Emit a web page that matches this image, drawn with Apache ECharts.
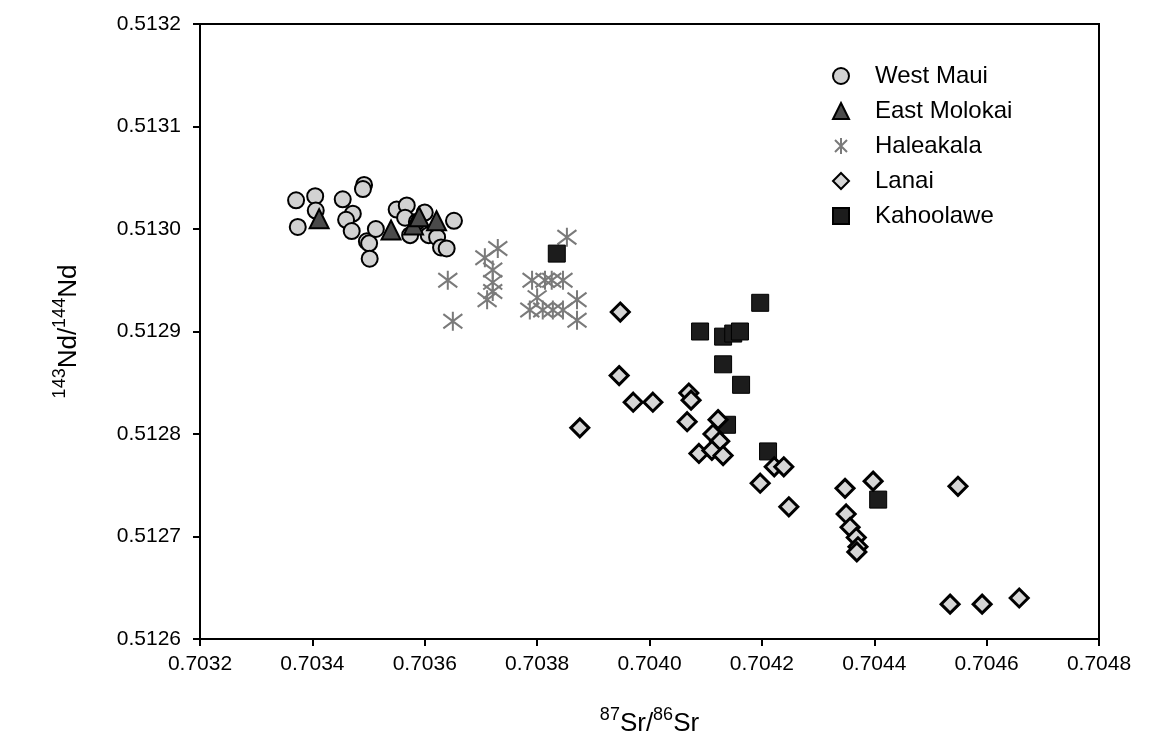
<!DOCTYPE html>
<html>
<head>
<meta charset="utf-8">
<title>Sr-Nd isotopes</title>
<script src="https://cdn.jsdelivr.net/npm/echarts@6/dist/echarts.min.js"></script>
<style>
  html, body { margin: 0; padding: 0; background: #fff; }
  #chart { width: 1170px; height: 755px; }
</style>
</head>
<body>
<div id="chart"></div>
<script>
// 87Sr/86Sr vs 143Nd/144Nd, volcanoes of the Maui Nui complex
const xTicks = [0.7032, 0.7034, 0.7036, 0.7038, 0.7040, 0.7042, 0.7044, 0.7046, 0.7048];
const yTicks = [0.5126, 0.5127, 0.5128, 0.5129, 0.5130, 0.5131, 0.5132];

const westMaui = [
  [0.703371, 0.513028], [0.703405, 0.513032], [0.703406, 0.513018], [0.703374, 0.513002],
  [0.703454, 0.513029], [0.703492, 0.513043], [0.703490, 0.513039], [0.703472, 0.513015],
  [0.703460, 0.513009], [0.703470, 0.512998], [0.703497, 0.512988], [0.703501, 0.512986],
  [0.703513, 0.513000], [0.703502, 0.512971], [0.703550, 0.513019], [0.703568, 0.513023],
  [0.703565, 0.513011], [0.703574, 0.512994], [0.703600, 0.513016], [0.703607, 0.512994],
  [0.703622, 0.512992], [0.703629, 0.512982], [0.703639, 0.512981], [0.703652, 0.513008],
  [0.703586, 0.513007]
];
const eastMolokai = [
  [0.703412, 0.513010], [0.703540, 0.512999], [0.703580, 0.513004],
  [0.703590, 0.513012], [0.703621, 0.513008]
];
const haleakala = [
  [0.703641, 0.512950], [0.703650, 0.512910], [0.703730, 0.512981], [0.703707, 0.512972],
  [0.703721, 0.512960], [0.703721, 0.512948], [0.703721, 0.512939], [0.703711, 0.512931],
  [0.703791, 0.512950], [0.703814, 0.512950], [0.703826, 0.512950], [0.703846, 0.512950],
  [0.703853, 0.512992], [0.703800, 0.512933], [0.703787, 0.512921], [0.703810, 0.512921],
  [0.703828, 0.512921], [0.703846, 0.512921], [0.703871, 0.512931], [0.703871, 0.512911]
];
const lanai = [
  [0.703948, 0.512919], [0.703946, 0.512857], [0.703971, 0.512831], [0.704006, 0.512831],
  [0.703876, 0.512806], [0.704070, 0.512840], [0.704074, 0.512833], [0.704067, 0.512812],
  [0.704122, 0.512814], [0.704113, 0.512800], [0.704125, 0.512793], [0.704088, 0.512781],
  [0.704111, 0.512784], [0.704131, 0.512779], [0.704222, 0.512768], [0.704239, 0.512768],
  [0.704197, 0.512752], [0.704248, 0.512729], [0.704348, 0.512747], [0.704398, 0.512754],
  [0.704350, 0.512722], [0.704357, 0.512709], [0.704368, 0.512699], [0.704371, 0.512690],
  [0.704369, 0.512685], [0.704549, 0.512749], [0.704535, 0.512634], [0.704592, 0.512634],
  [0.704658, 0.512640]
];
const kahoolawe = [
  [0.703835, 0.512976], [0.704197, 0.512928], [0.704090, 0.512900], [0.704131, 0.512895],
  [0.704149, 0.512898], [0.704161, 0.512900], [0.704131, 0.512868], [0.704163, 0.512848],
  [0.704138, 0.512809], [0.704211, 0.512783], [0.704407, 0.512736]
];

const FONT = '"Liberation Sans", Arial, Helvetica, sans-serif';
const STAR = 'path://M10,0 L10,20 M2.5,2.5 L17.5,17.5 M2.5,17.5 L17.5,2.5';

const chart = echarts.init(document.getElementById('chart'), null, { renderer: 'canvas' });

const fmt = v => v.toFixed(4);

const titleRich = {
  b: { fontFamily: FONT, fontSize: 26, color: '#000', verticalAlign: 'bottom', lineHeight: 32 },
  sup: { fontFamily: FONT, fontSize: 18, color: '#000', verticalAlign: 'bottom', lineHeight: 32, padding: [0, 0, 13, 0] }
};

chart.setOption({
  animation: false,
  backgroundColor: '#ffffff',
  grid: {
    left: 200, right: 71, top: 24, bottom: 116,
    show: true, borderColor: '#000', borderWidth: 2, backgroundColor: 'transparent'
  },
  legend: {
    orient: 'vertical',
    left: 827, top: 59,
    itemGap: 11,
    itemWidth: 16, itemHeight: 16,
    textStyle: { fontFamily: FONT, fontSize: 24, lineHeight: 24, color: '#000', padding: [0, 0, 0, 21] },
    data: ['West Maui', 'East Molokai', 'Haleakala', 'Lanai', 'Kahoolawe']
  },
  xAxis: {
    type: 'value',
    min: xTicks[0], max: xTicks[xTicks.length - 1], interval: 0.0002,
    name: '{sup|87}{b|Sr/}{sup|86}{b|Sr}',
    nameLocation: 'middle', nameGap: 66,
    nameTextStyle: { rich: titleRich },
    axisLine: { lineStyle: { color: '#000', width: 2 } },
    axisTick: { show: true, length: 7, lineStyle: { color: '#000', width: 2 } },
    axisLabel: { fontFamily: FONT, fontSize: 21, color: '#000', margin: 15, formatter: fmt },
    splitLine: { show: false }
  },
  yAxis: {
    type: 'value',
    min: yTicks[0], max: yTicks[yTicks.length - 1], interval: 0.0001,
    name: '{sup|143}{b|Nd/}{sup|144}{b|Nd}',
    nameLocation: 'middle', nameGap: 118, nameRotate: 90,
    nameTextStyle: { rich: titleRich },
    axisLine: { lineStyle: { color: '#000', width: 2 } },
    axisTick: { show: true, length: 7, lineStyle: { color: '#000', width: 2 } },
    axisLabel: { fontFamily: FONT, fontSize: 21, color: '#000', margin: 19, formatter: fmt },
    splitLine: { show: false }
  },
  series: [
    {
      name: 'West Maui', type: 'scatter', data: westMaui, z: 2,
      symbol: 'circle', symbolSize: 16,
      itemStyle: { color: '#d2d2d2', borderColor: '#000', borderWidth: 2, opacity: 1 }
    },
    {
      name: 'East Molokai', type: 'scatter', data: eastMolokai, z: 3,
      symbol: 'triangle', symbolSize: 19,
      itemStyle: { color: '#4a4a4a', borderColor: '#000', borderWidth: 2, opacity: 1 }
    },
    {
      name: 'Haleakala', type: 'scatter', data: haleakala, z: 4,
      symbol: STAR, symbolSize: 19,
      itemStyle: { color: 'rgba(0,0,0,0)', borderColor: '#7a7a7a', borderWidth: 2, opacity: 1 }
    },
    {
      name: 'Lanai', type: 'scatter', data: lanai, z: 6,
      symbol: 'diamond', symbolSize: 18,
      itemStyle: { color: '#d6d6d6', borderColor: '#000', borderWidth: 3, opacity: 1 }
    },
    {
      name: 'Kahoolawe', type: 'scatter', data: kahoolawe, z: 5,
      symbol: 'rect', symbolSize: 17,
      itemStyle: { color: '#1c1c1c', borderColor: '#000', borderWidth: 1, opacity: 1 }
    }
  ]
});
</script>
</body>
</html>
